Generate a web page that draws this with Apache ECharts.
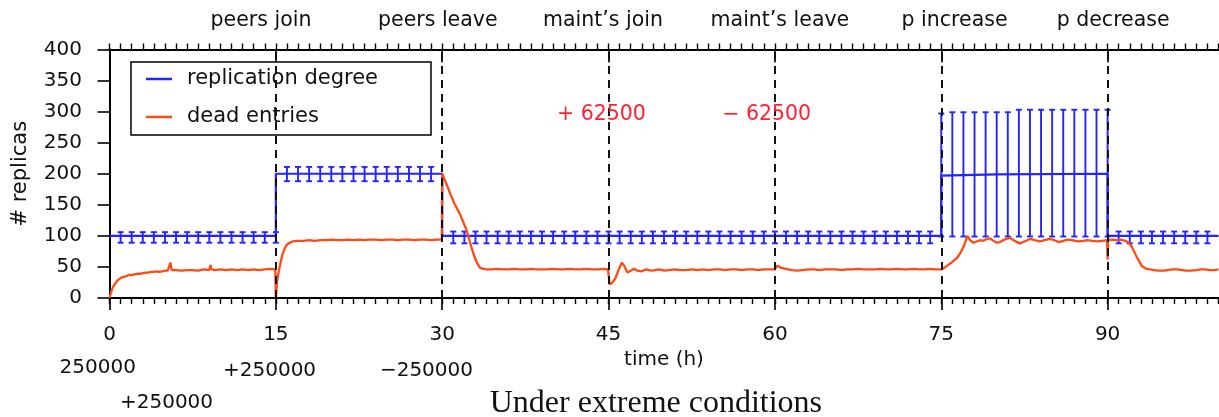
<!DOCTYPE html>
<html><head><meta charset="utf-8">
<script src="https://cdn.jsdelivr.net/npm/echarts@6/dist/echarts.min.js"></script>
<style>html,body{margin:0;padding:0;background:#fff}#c{width:1219px;height:417px}</style>
</head><body><div id="c"></div>
<script>
// ---- data ----
const xMajorTicks = [0, 15, 30, 45, 60, 75, 90];
const eventTimes = [15, 30, 45, 60, 75, 90];
const eventNames = ['peers join', 'peers leave', 'maint\u2019s join', 'maint\u2019s leave', 'p increase', 'p decrease'];
const eventLabelX = [13.66, 29.6, 44.5, 60.45, 76.2, 90.5];
const eventLabelY = 446;
const churnTexts = ['+ 62500', '\u2212 62500'];
const churnX = [44.36, 59.26];
const churnY = 295.5;
const popTexts = ['250000', '+250000', '\u2212250000', '+250000'];
const popX = [-1.06, 14.43, 28.58, 5.14];
const popY = [-112, -117, -117, -168];
const captionText = 'Under extreme conditions';
const captionX = 49.27, captionY = -169.3;

// mean replication degree
const replicationMean = [[0,100],[15,100],[15,200],[30,200],[30,100],[75,100],[75,197],[80,199],[90,200],[90,100],[100,100]];

// error bars: [t, low, high]
const replicationErr = [
 [1,89,106],[2,89,106],[3,89,106],[4,89,106],[5,89,106],[6,89,106],[7,89,106],[8,89,106],
 [9,89,106],[10,89,106],[11,89,106],[12,89,106],[13,89,106],[14,89,106],[15,89,106],
 [16,188,211],[17,188,211],[18,188,211],[19,188,211],[20,188,211],[21,188,211],[22,188,211],
 [23,188,211],[24,188,211],[25,188,211],[26,188,211],[27,188,211],[28,188,211],[29,188,211],
 [31,88,107],[32,88,107],[33,88,107],[34,88,107],[35,88,107],[36,88,107],[37,88,107],[38,88,107],
 [39,88,107],[40,88,107],[41,88,107],[42,88,107],[43,88,107],[44,88,107],[45,88,107],[46,88,107],
 [47,88,107],[48,88,107],[49,88,107],[50,88,107],[51,88,107],[52,88,107],[53,88,107],[54,88,107],
 [55,88,107],[56,88,107],[57,88,107],[58,88,107],[59,88,107],[60,88,107],[61,88,107],[62,88,107],
 [63,88,107],[64,88,107],[65,88,107],[66,88,107],[67,88,107],[68,88,107],[69,88,107],[70,88,107],
 [71,88,107],[72,88,107],[73,88,107],[74,88,107],
 [75,99,297],[76,99,299],[77,99,299],[78,99,299],[79,99,299],[80,99,299],[81,99,299],[82,99,303],
 [83,99,303],[84,99,303],[85,99,303],[86,99,303],[87,99,303],[88,99,303],[89,99,303],[90,99,303],
 [91,88,107],[92,88,107],[93,88,107],[94,88,107],[95,88,107],[96,88,107],[97,88,107],[98,88,107],[99,88,107]
];

// dead entries
const deadEntries = [
 [0,0],[0.15,10],[0.3,17],[0.5,23],[0.75,29],[1,32],[1.25,34],[1.5,35],[1.75,37],[2,37],[2.25,38],[2.5,39],
 [2.75,39],[3,40],[3.25,41],[3.5,41],[3.75,42],[4,42],[4.25,43],[4.5,42],[4.75,43],[5,44],[5.25,44],[5.4,45],
 [5.5,57],[5.6,45],[5.75,44],[6,45],[6.5,44],[7,45],[7.5,45],[8,44],[8.5,46],[9,45],[9.1,53],[9.2,46],[9.5,45],
 [10,46],[10.5,45],[11,46],[11.5,45],[12,46],[12.5,45],[13,46],[13.5,45],[14,46],[14.5,47],[14.95,46],
 [15,0],[15.1,25],[15.25,42],[15.4,55],[15.6,70],[15.8,80],[16,86],[16.25,89],[16.5,91],[17,92],[17.5,92],
 [18,93],[18.5,92],[19,93],[19.5,93],[20,94],[20.5,93],[21,93],[21.5,94],[22,93],[22.5,94],[23,93],[23.5,94],
 [24,94],[24.5,93],[25,94],[25.5,94],[26,93],[26.5,94],[27,94],[27.5,93],[28,94],[28.5,94],[29,93],[29.5,94],
 [29.97,94],[30,200],[30.35,185],[30.7,169],[31.1,152],[31.6,135],[32.2,109],[32.5,90],[32.8,72],[33.1,58],
 [33.4,49],[33.7,47],[34,46],[34.5,46],[35,47],[35.5,46],[36,46],[36.5,47],[37,46],[37.5,46],[38,47],[38.5,46],
 [39,46],[39.5,46],[40,47],[40.5,46],[41,46],[41.5,47],[42,46],[42.5,46],[43,47],[43.5,46],[44,46],[44.5,47],
 [44.95,46],[45.1,22],[45.3,24],[45.6,31],[45.9,45],[46.2,57],[46.4,52],[46.7,41],[47,44],[47.3,47],[47.6,44],
 [48,43],[48.4,46],[48.8,44],[49.2,45],[49.6,46],[50,44],[50.5,45],[51,46],[51.5,45],[52,45],[52.5,46],[53,45],
 [53.5,46],[54,45],[54.5,46],[55,46],[55.5,45],[56,46],[56.5,46],[57,45],[57.5,46],[58,46],[58.5,45],[59,46],
 [59.5,46],[60,46],[60.2,52],[60.5,49],[61,47],[61.5,45],[62,44],[62.5,45],[63,46],[63.5,46],[64,45],[64.5,46],
 [65,46],[65.5,46],[66,45],[66.5,46],[67,46],[67.5,47],[68,46],[68.5,46],[69,46],[69.5,47],[70,46],[70.5,46],
 [71,47],[71.5,46],[72,46],[72.5,47],[73,46],[73.5,46],[74,47],[74.5,46],[75,46],
 [75.3,49],[75.6,53],[76,58],[76.4,64],[76.7,72],[77,82],[77.2,92],[77.35,100],[77.6,93],[77.9,89],[78.2,91],
 [78.5,93],[78.8,92],[79.1,95],[79.4,96],[79.7,92],[80,89],[80.3,90],[80.7,94],[81.2,97],[81.6,92],[82.1,88],
 [82.5,91],[83,95],[83.4,93],[83.9,91],[84.3,93],[84.8,95],[85.2,93],[85.6,90],[86,92],[86.4,94],[86.8,93],
 [87.3,91],[87.8,92],[88.2,93],[88.6,92],[89.1,91],[89.5,92],[89.95,93],[90,62],[90.05,93],[90.4,94],[90.8,93],
 [91.2,94],[91.6,92],[91.9,89],[92.2,82],[92.6,67],[93.1,51],[93.5,47],[93.8,46],[94.2,45],[94.6,44],[95,44],
 [95.4,45],[95.8,46],[96.3,46],[96.7,45],[97.1,44],[97.5,44],[98,45],[98.4,46],[98.8,46],[99.2,45],[99.6,45],[100,46]
];

// ---- chart ----
const FONT = 'DejaVu Sans';
const TXT = '#111';
const chart = echarts.init(document.getElementById('c'), null, {renderer: 'canvas'});

function ann(texts, xs, ys, style) {
  return texts.map((t, i) => ({
    name: t,
    value: [xs[i], Array.isArray(ys) ? ys[i] : ys],
    label: Object.assign({show: true, position: 'inside', formatter: '{b}', fontFamily: FONT,
      opacity: 1, textBorderWidth: 0, textShadowBlur: 0}, style)
  }));
}
const annData = [].concat(
  ann(eventNames, eventLabelX, eventLabelY, {fontSize: 20.5, color: TXT}),
  ann(churnTexts, churnX, churnY, {fontSize: 20.5, color: '#ff1f2f'}),
  ann(popTexts, popX, popY, {fontSize: 20, color: TXT}),
  ann([captionText], [captionX], captionY, {fontSize: 32, color: TXT, fontFamily: 'Liberation Serif'})
);

const axisCommon = {type: 'value', min: 0, max: 100, gridIndex: 0, splitLine: {show: false}};
const option = {
  animation: false,
  backgroundColor: '#fff',
  grid: {left: 109.5, right: 0.5, top: 49.5, bottom: 119, outerBoundsMode: 'none'},
  legend: {
    left: 131, top: 62, orient: 'vertical',
    data: ['replication degree', 'dead entries'],
    icon: 'rect', itemWidth: 26, itemHeight: 2.5, itemGap: 14,
    padding: [5, 53, 6, 15],
    borderColor: '#000', borderWidth: 1.5, backgroundColor: '#fff',
    textStyle: {fontFamily: FONT, fontSize: 21, color: TXT, lineHeight: 24, padding: [0, 0, 0, 10]},
    selectedMode: false
  },
  xAxis: [
    Object.assign({}, axisCommon, {
      position: 'bottom', interval: 15,
      axisLine: {show: true, onZero: false, lineStyle: {color: '#000', width: 2}},
      axisTick: {show: true, length: 12, customValues: xMajorTicks, lineStyle: {color: '#000', width: 1.6}},
      axisLabel: {customValues: xMajorTicks, fontFamily: FONT, fontSize: 20, color: TXT, margin: 27,
        formatter: v => (v % 15 === 0 && v <= 90) ? String(v) : ''},
      name: 'time (h)', nameLocation: 'middle', nameGap: 52,
      nameTextStyle: {fontFamily: FONT, fontSize: 20, color: TXT}
    }),
    Object.assign({}, axisCommon, {
      position: 'bottom', interval: 1,
      axisLine: {show: false, onZero: false},
      axisTick: {show: true, length: 6, lineStyle: {color: '#000', width: 1.4}},
      axisLabel: {show: false}
    }),
    Object.assign({}, axisCommon, {
      position: 'top', interval: 1,
      axisLine: {show: true, onZero: false, lineStyle: {color: '#000', width: 2}},
      axisTick: {show: true, length: 6, lineStyle: {color: '#000', width: 1.4}},
      axisLabel: {show: false}
    }),
    Object.assign({}, axisCommon, {
      position: 'top', interval: 15,
      axisLine: {show: false, onZero: false},
      axisTick: {show: true, inside: true, length: 13, customValues: eventTimes, lineStyle: {color: '#000', width: 1.6}},
      axisLabel: {show: false}
    })
  ],
  yAxis: {
    type: 'value', min: 0, max: 400, interval: 50, position: 'left',
    splitLine: {show: false},
    axisLine: {show: true, onZero: false, lineStyle: {color: '#000', width: 2}},
    axisTick: {show: true, length: 12, lineStyle: {color: '#000', width: 1.6}},
    axisLabel: {fontFamily: FONT, fontSize: 20, color: TXT, margin: 27.5},
    name: '# replicas', nameLocation: 'middle', nameRotate: 90, nameGap: 78,
    nameTextStyle: {fontFamily: FONT, fontSize: 21, color: TXT}
  },
  series: [
    {
      name: 'replication degree', type: 'line', data: replicationMean,
      showSymbol: false, symbol: 'none', silent: true, z: 2,
      itemStyle: {color: '#2424ff'},
      lineStyle: {color: '#2424ff', width: 2.2},
      markLine: {
        silent: true, symbol: ['none', 'none'], label: {show: false},
        lineStyle: {color: '#111', width: 2, type: [8, 6]},
        data: eventTimes.map(t => ({xAxis: t}))
      }
    },
    {
      name: 'error', type: 'custom', data: replicationErr, silent: true, z: 3,
      encode: {x: 0, y: [1, 2]},
      renderItem: function (params, api) {
        const t = api.value(0), lo = api.value(1), hi = api.value(2);
        const a = api.coord([t, lo]), b = api.coord([t, hi]);
        const w = 3;
        const st = {stroke: '#2424ff', lineWidth: 1.9};
        return {type: 'group', children: [
          {type: 'line', shape: {x1: a[0], y1: a[1], x2: b[0], y2: b[1]}, style: st},
          {type: 'line', shape: {x1: a[0] - w, y1: a[1], x2: a[0] + w, y2: a[1]}, style: st},
          {type: 'line', shape: {x1: b[0] - w, y1: b[1], x2: b[0] + w, y2: b[1]}, style: st}
        ]};
      }
    },
    {
      name: 'dead entries', type: 'line', data: deadEntries,
      showSymbol: false, symbol: 'none', silent: true, z: 4,
      itemStyle: {color: '#ff4a14'},
      lineStyle: {color: '#ff4a14', width: 2.3}
    },
    {
      name: 'annotations', type: 'scatter', data: annData, clip: false, silent: true, z: 6,
      symbolSize: 1, itemStyle: {color: '#fff', opacity: 1},
      emphasis: {disabled: true}
    }
  ]
};
chart.setOption(option);
</script>
</body></html>
